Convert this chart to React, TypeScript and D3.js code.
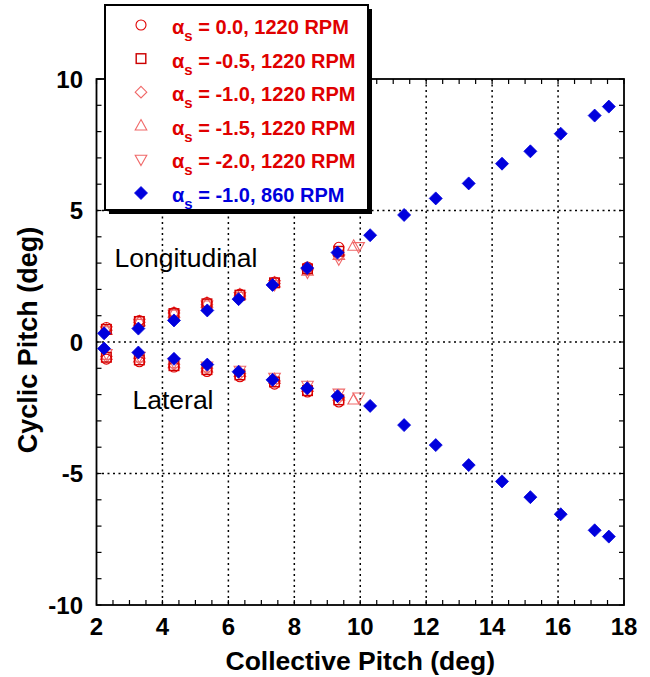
import React from "react";
import * as d3 from "d3";

const W = 650, H = 677;

// Collective pitch positions for 1220 RPM runs
const xRed = [2.3, 3.3, 4.35, 5.35, 6.35, 7.4, 8.4, 9.35];
const xRedExt15 = [2.3, 3.3, 4.35, 5.35, 6.35, 7.4, 8.4, 9.35, 9.8];
const xRedExt20 = [2.3, 3.3, 4.35, 5.35, 6.35, 7.4, 8.4, 9.35, 9.95];

const lon00 = [0.55, 0.82, 1.12, 1.5, 1.82, 2.28, 2.85, 3.6];
const lat00 = [-0.65, -0.75, -0.95, -1.12, -1.32, -1.6, -1.9, -2.28];
const lon05 = [0.48, 0.78, 1.08, 1.45, 1.78, 2.25, 2.78, 3.45];
const lat05 = [-0.58, -0.68, -0.9, -1.05, -1.25, -1.52, -1.85, -2.2];
const lon10 = [0.45, 0.75, 1.1, 1.42, 1.75, 2.22, 2.75, 3.3];
const lat10 = [-0.55, -0.62, -0.85, -1.0, -1.2, -1.48, -1.78, -2.12];
const lon15 = [0.45, 0.78, 1.1, 1.48, 1.8, 2.25, 2.7, 3.3, 3.65];
const lat15 = [-0.5, -0.6, -0.82, -0.98, -1.15, -1.42, -1.72, -2.05, -2.2];
const lon20 = [0.42, 0.7, 1.05, 1.4, 1.72, 2.18, 2.65, 3.15, 3.62];
const lat20 = [-0.45, -0.55, -0.78, -0.92, -1.08, -1.35, -1.65, -1.95, -2.1];

// 860 RPM run
const xBlue = [2.23, 3.27, 4.35, 5.36, 6.31, 7.34, 8.39, 9.31, 10.3, 11.33, 12.29, 13.29, 14.3, 15.16, 16.08, 17.11, 17.54];
const lonBlue = [0.33, 0.51, 0.82, 1.2, 1.63, 2.17, 2.81, 3.4, 4.06, 4.83, 5.46, 6.03, 6.78, 7.25, 7.92, 8.61, 8.95];
const latBlue = [-0.25, -0.4, -0.64, -0.86, -1.13, -1.44, -1.76, -2.06, -2.43, -3.16, -3.92, -4.68, -5.3, -5.9, -6.55, -7.16, -7.4];

const xTicks = [2, 4, 6, 8, 10, 12, 14, 16, 18];
const yTicks = [-10, -5, 0, 5, 10];
const legendAlpha = ["0.0", "-0.5", "-1.0", "-1.5", "-2.0", "-1.0"];
const legendRpm = ["1220", "1220", "1220", "1220", "1220", "860"];

const RED = "#e00000";
const DARKRED = "#cc0000";
const PINK = "#f06868";
const BLUE = "#0000dd";

type Shape = "circle" | "square" | "diamond" | "tri" | "itri" | "fdiamond";

function Marker({ shape, x, y, color }: { shape: Shape; x: number; y: number; color: string }) {
  const sw = 1.1;
  switch (shape) {
    case "circle":
      return <circle cx={x} cy={y} r={5} fill="none" stroke={color} strokeWidth={sw} />;
    case "square":
      return <rect x={x - 4.8} y={y - 4.8} width={9.6} height={9.6} fill="none" stroke={color} strokeWidth={sw * 1.3} />;
    case "diamond":
      return <path d={`M${x},${y - 5.8}L${x + 5.8},${y}L${x},${y + 5.8}L${x - 5.8},${y}Z`} fill="none" stroke={color} strokeWidth={sw} />;
    case "tri":
      return <path d={`M${x},${y - 6.2}L${x + 5.8},${y + 4.2}L${x - 5.8},${y + 4.2}Z`} fill="none" stroke={color} strokeWidth={sw} />;
    case "itri":
      return <path d={`M${x},${y + 6.2}L${x + 5.8},${y - 4.2}L${x - 5.8},${y - 4.2}Z`} fill="none" stroke={color} strokeWidth={sw} />;
    case "fdiamond":
      return <path d={`M${x},${y - 6.5}L${x + 6.5},${y}L${x},${y + 6.5}L${x - 6.5},${y}Z`} fill={color} stroke={color} strokeWidth={0.8} />;
  }
}

export default function App() {
  const x = d3.scaleLinear().domain([2, 18]).range([96.5, 624]);
  const y = d3.scaleLinear().domain([-10, 10]).range([605, 79]);

  const series: { xs: number[]; ys: number[]; shape: Shape; color: string }[] = [
    { xs: xRedExt20, ys: lon20, shape: "itri", color: PINK },
    { xs: xRedExt20, ys: lat20, shape: "itri", color: PINK },
    { xs: xRedExt15, ys: lon15, shape: "tri", color: PINK },
    { xs: xRedExt15, ys: lat15, shape: "tri", color: PINK },
    { xs: xRed, ys: lon10, shape: "diamond", color: PINK },
    { xs: xRed, ys: lat10, shape: "diamond", color: PINK },
    { xs: xRed, ys: lon05, shape: "square", color: DARKRED },
    { xs: xRed, ys: lat05, shape: "square", color: DARKRED },
    { xs: xRed, ys: lon00, shape: "circle", color: RED },
    { xs: xRed, ys: lat00, shape: "circle", color: RED },
    { xs: xBlue, ys: lonBlue, shape: "fdiamond", color: BLUE },
    { xs: xBlue, ys: latBlue, shape: "fdiamond", color: BLUE },
  ];

  const [x0, x1] = x.range();
  const [y0, y1] = y.range();
  const xMinor = d3.range(2, 18.01, 0.5);
  const yMinor = d3.range(-10, 10.01, 1);
  const legendShapes: Shape[] = ["circle", "square", "diamond", "tri", "itri", "fdiamond"];
  const legendColors = [RED, DARKRED, PINK, PINK, PINK, BLUE];
  const legendText = [RED, RED, RED, RED, RED, BLUE];
  const font = "'Liberation Sans', Arial, sans-serif";

  return (
    <svg width={W} height={H} style={{ position: "absolute", left: 0, top: 0 }} fontFamily={font}>
      <rect width={W} height={H} fill="#fff" />
      {/* grid */}
      {xTicks.slice(1, -1).map((t) => (
        <line key={"gx" + t} x1={x(t)} x2={x(t)} y1={y1} y2={y0} stroke="#000" strokeWidth={1.5} strokeDasharray="2,3.5" />
      ))}
      {yTicks.slice(1, -1).map((t) => (
        <line key={"gy" + t} x1={x0} x2={x1} y1={y(t)} y2={y(t)} stroke="#000" strokeWidth={1.5} strokeDasharray="2,3.5" />
      ))}
      {/* minor ticks */}
      {xMinor.map((t) => (
        <g key={"tx" + t}>
          <line x1={x(t)} x2={x(t)} y1={y0} y2={y0 - 5} stroke="#000" strokeWidth={1.2} />
          <line x1={x(t)} x2={x(t)} y1={y1} y2={y1 + 5} stroke="#000" strokeWidth={1.2} />
        </g>
      ))}
      {yMinor.map((t) => (
        <g key={"ty" + t}>
          <line x1={x0} x2={x0 + 5} y1={y(t)} y2={y(t)} stroke="#000" strokeWidth={1.2} />
          <line x1={x1} x2={x1 - 5} y1={y(t)} y2={y(t)} stroke="#000" strokeWidth={1.2} />
        </g>
      ))}
      <rect x={x0} y={y1} width={x1 - x0} height={y0 - y1} fill="none" stroke="#000" strokeWidth={1.8} />
      {/* tick labels */}
      {xTicks.map((t) => (
        <text key={"lx" + t} x={x(t)} y={635} textAnchor="middle" fontSize={24} fontWeight="bold">{t}</text>
      ))}
      {yTicks.map((t) => (
        <text key={"ly" + t} x={83} y={y(t) + 8.5} textAnchor="end" fontSize={24} fontWeight="bold">{t}</text>
      ))}
      <text x={(x0 + x1) / 2} y={670} textAnchor="middle" fontSize={26.5} fontWeight="bold">Collective Pitch (deg)</text>
      <text transform={`translate(37,340) rotate(-90)`} textAnchor="middle" fontSize={27} fontWeight="bold">Cyclic Pitch (deg)</text>
      <text x={186} y={267} textAnchor="middle" fontSize={26.5}>Longitudinal</text>
      <text x={173} y={409} textAnchor="middle" fontSize={26.5}>Lateral</text>
      {/* data */}
      {series.map((s, i) => (
        <g key={"s" + i}>
          {s.xs.map((xv, j) => (
            <Marker key={j} shape={s.shape} x={x(xv)} y={y(s.ys[j])} color={s.color} />
          ))}
        </g>
      ))}
      {/* legend */}
      <rect x={109} y={9} width={263} height={205} fill="#000" />
      <rect x={105} y={5} width={263} height={205} fill="#fff" stroke="#000" strokeWidth={2} />
      {legendAlpha.map((a, i) => {
        const cy = 25 + i * 33.6;
        return (
          <g key={"lg" + i}>
            <Marker shape={legendShapes[i]} x={141} y={cy} color={legendColors[i]} />
            <text x={172} y={cy + 9} fontSize={20} fontWeight="bold" fill={legendText[i]}>
              α<tspan dy={7} fontSize={15}>s</tspan>
              <tspan dy={-7}>{` = ${a}, ${legendRpm[i]} RPM`}</tspan>
            </text>
          </g>
        );
      })}
    </svg>
  );
}
